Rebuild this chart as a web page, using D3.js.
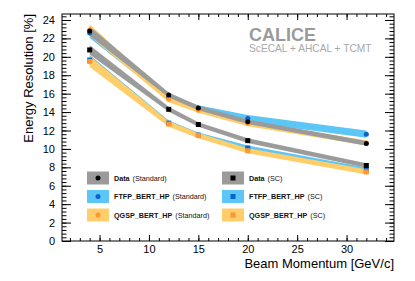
<!DOCTYPE html>
<html>
<head>
<meta charset="utf-8">
<script src="https://cdn.jsdelivr.net/npm/d3@7"></script>
<style>
  body { margin: 0; background: #fff; }
  text { font-family: "Liberation Sans", Arial, sans-serif; }
</style>
</head>
<body>
<script>
// beam momenta [GeV/c]
var energies = [4, 12, 15, 20, 32];

// resolution [%] and band half widths
var dataStd   = [22.8, 15.85, 14.45, 12.95, 10.6],
    dataStdErr = [0.5, 0.27, 0.25, 0.25, 0.25];
var dataSC    = [20.75, 14.3, 12.65, 10.9, 8.2],
    dataSCErr = [0.5, 0.27, 0.25, 0.25, 0.25];
var ftfpStd   = [22.6, 15.6, 14.4, 13.3, 11.6],
    ftfpStdErr = [0.55, 0.32, 0.33, 0.38, 0.4];
var ftfpSC    = [19.65, 12.8, 11.5, 10.1, 7.7],
    ftfpSCErr = [0.55, 0.28, 0.28, 0.28, 0.28];
var qgspStd   = [22.9, 15.4, 14.2, 12.75, 10.65],
    qgspStdErr = [0.65, 0.32, 0.28, 0.28, 0.28];
var qgspSC    = [19.5, 12.7, 11.45, 9.8, 7.5],
    qgspSCErr = [0.6, 0.3, 0.28, 0.28, 0.28];

var xTicks = [5, 10, 15, 20, 25, 30];
var yTicks = [0, 2, 4, 6, 8, 10, 12, 14, 16, 18, 20, 22, 24];

var gray_band = "#9b9b9b", blue_band = "#5cc6f7", orange_band = "#ffcd6a";
var black_mk = "#000000", blue_mk = "#0a62cc", orange_mk = "#ff9533";

var width = 415, height = 281;
var pLeft = 62, pRight = 394, pTop = 14, pBottom = 241;

var xScale = d3.scaleLinear().domain([1.2, 34.8]).range([pLeft, pRight]);
var yScale = d3.scaleLinear().domain([0, 24.65]).range([pBottom, pTop]);

var svg = d3.select("body").append("svg")
    .attr("width", width)
    .attr("height", height);

// series, drawn in this order (bands), markers after
var series = [
  {label: "FTFP_BERT_HP", tag: "(Standard)", v: ftfpStd, err: ftfpStdErr, band: blue_band, mk: blue_mk, shape: "circle"},
  {label: "FTFP_BERT_HP", tag: "(SC)", v: ftfpSC, err: ftfpSCErr, band: blue_band, mk: blue_mk, shape: "square"},
  {label: "QGSP_BERT_HP", tag: "(Standard)", v: qgspStd, err: qgspStdErr, band: orange_band, mk: orange_mk, shape: "circle"},
  {label: "QGSP_BERT_HP", tag: "(SC)", v: qgspSC, err: qgspSCErr, band: orange_band, mk: orange_mk, shape: "square"},
  {label: "Data", tag: "(Standard)", v: dataStd, err: dataStdErr, band: gray_band, mk: black_mk, shape: "circle"},
  {label: "Data", tag: "(SC)", v: dataSC, err: dataSCErr, band: gray_band, mk: black_mk, shape: "square"}
];

series.forEach(function(s) {
  s.pts = energies.map(function(e, i) { return {e: e, v: s.v[i], err: s.err[i]}; });
});

var area = d3.area()
    .x(function(d) { return xScale(d.e); })
    .y0(function(d) { return yScale(d.v - d.err); })
    .y1(function(d) { return yScale(d.v + d.err); });

// bands
svg.append("g").selectAll("path")
    .data(series)
    .enter().append("path")
    .attr("d", function(s) { return area(s.pts); })
    .style("fill", function(s) { return s.band; });

// markers
function drawMarker(g, shape, color, cx, cy) {
  if (shape == "circle") {
    g.append("circle").attr("cx", cx).attr("cy", cy).attr("r", 2.5).style("fill", color);
  } else {
    g.append("rect").attr("x", cx - 2.5).attr("y", cy - 2.5)
        .attr("width", 5).attr("height", 5).style("fill", color);
  }
}

var mk = svg.append("g");
series.forEach(function(s) {
  s.pts.forEach(function(d) {
    drawMarker(mk, s.shape, s.mk, xScale(d.e), yScale(d.v));
  });
});

// axes, ticks pointing inwards on all four sides
function yMinor() { return d3.range(0, 24.65, 0.4); }
function xMinor() { return d3.range(2, 35, 1); }

var gl = svg.append("g").attr("transform", "translate(" + pLeft + ",0)")
    .call(d3.axisLeft(yScale).tickValues(yTicks).tickSize(-9).tickPadding(7).tickFormat(d3.format("d")));
svg.append("g").attr("transform", "translate(" + pLeft + ",0)")
    .call(d3.axisLeft(yScale).tickValues(yMinor()).tickSize(-4.5).tickFormat(""));
svg.append("g").attr("transform", "translate(" + pRight + ",0)")
    .call(d3.axisRight(yScale).tickValues(yTicks).tickSize(-9).tickFormat(""));
svg.append("g").attr("transform", "translate(" + pRight + ",0)")
    .call(d3.axisRight(yScale).tickValues(yMinor()).tickSize(-4.5).tickFormat(""));

var gb = svg.append("g").attr("transform", "translate(0," + pBottom + ")")
    .call(d3.axisBottom(xScale).tickValues(xTicks).tickSize(-6).tickPadding(4).tickFormat(d3.format("d")));
svg.append("g").attr("transform", "translate(0," + pBottom + ")")
    .call(d3.axisBottom(xScale).tickValues(xMinor()).tickSize(-3).tickFormat(""));
svg.append("g").attr("transform", "translate(0," + pTop + ")")
    .call(d3.axisTop(xScale).tickValues(xTicks).tickSize(-6).tickFormat(""));
svg.append("g").attr("transform", "translate(0," + pTop + ")")
    .call(d3.axisTop(xScale).tickValues(xMinor()).tickSize(-3).tickFormat(""));

svg.selectAll(".domain").remove();
svg.selectAll(".tick line").style("stroke", "#000");
svg.selectAll(".tick text")
    .style("font-family", "Liberation Sans, Arial, sans-serif")
    .style("font-size", "11px")
    .style("fill", "#000");
gb.selectAll(".tick text").attr("y", 4).attr("dy", "0.71em");

svg.append("rect")
    .attr("x", pLeft).attr("y", pTop)
    .attr("width", pRight - pLeft).attr("height", pBottom - pTop)
    .style("fill", "none").style("stroke", "#000").style("stroke-width", 1);

// axis titles
svg.append("text")
    .attr("transform", "translate(33," + pTop + ") rotate(-90)")
    .attr("text-anchor", "end")
    .style("font-size", "13px")
    .text("Energy Resolution [%]");

svg.append("text")
    .attr("x", pRight).attr("y", 267.5)
    .attr("text-anchor", "end")
    .style("font-size", "13px")
    .text("Beam Momentum [GeV/c]");

// CALICE label
svg.append("text")
    .attr("x", 249).attr("y", 40.5)
    .style("font-size", "18px").style("font-weight", "bold")
    .style("fill", "#9a9a9a")
    .text("CALICE");
svg.append("text")
    .attr("x", 249).attr("y", 52)
    .style("font-size", "10.2px")
    .style("fill", "#a8a8a8")
    .text("ScECAL + AHCAL + TCMT");

// legend: standard column left, SC column right
var legendOrder = [4, 0, 2, 5, 1, 3];
var legX = [87, 222], legY = [178, 196.5, 215];

legendOrder.forEach(function(si, k) {
  var s = series[si];
  var col = Math.floor(k / 3), row = k % 3;
  var g = svg.append("g")
      .attr("transform", "translate(" + legX[col] + "," + legY[row] + ")");
  g.append("rect")
      .attr("x", 0).attr("y", -6.5)
      .attr("width", 22).attr("height", 13)
      .style("fill", s.band);
  drawMarker(g, s.shape, s.mk, 11, 0);
  var t = g.append("text")
      .attr("x", 27).attr("y", 2.6)
      .style("font-size", "7.2px")
      .style("fill", "#111");
  t.append("tspan").style("font-weight", "bold").text(s.label);
  t.append("tspan").attr("dx", 3).text(s.tag);
});
</script>
</body>
</html>
